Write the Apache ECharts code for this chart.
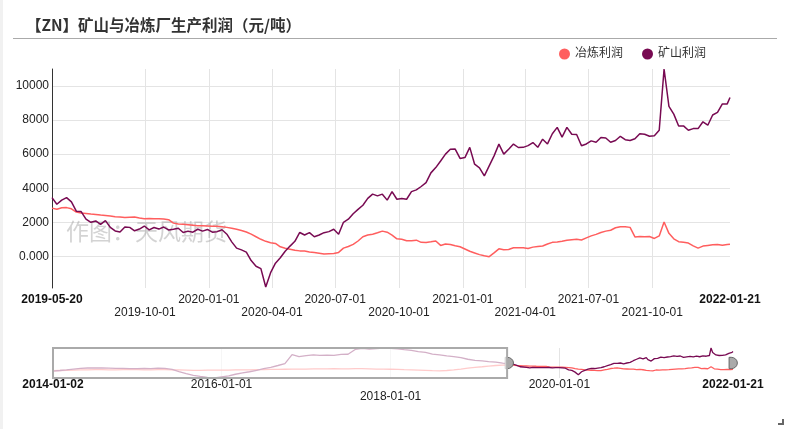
<!DOCTYPE html>
<html>
<head>
<meta charset="utf-8">
<script src="https://cdn.jsdelivr.net/npm/echarts@6/dist/echarts.min.js"></script>
<style>
  html, body { margin: 0; padding: 0; background: #fff; }
  #chart { width: 790px; height: 429px; }
</style>
</head>
<body>
<div id="chart"></div>
<script>
// 历史数据，月度，2014-01 起（只在下方缩略条里看得到）
const mineHist = [
  -100, 200, 500, 900, 1200, 1400, 1500, 1400, 1300, 1200, 1200, 1100,
  1100, 1200, 1100, 1300, 1200, 700, -300, -1300, -2100, -2600, -3100, -3400,
  -2900, -2400, -1600, -900, -400, 300, 1100, 1700, 2600, 3500, 7800, 6900,
  7300, 7700, 7500, 7600, 7500, 7900, 8000, 10300, 10800, 10500, 10700, 10900,
  10800, 10600, 10200, 9900, 9300, 8900, 8100, 7700, 7200, 6900, 6400, 5600,
  5100, 4800, 4500, 4200, 3700
];
const smeltHist = [
  100, 200, 300, 400, 500, 500, 600, 600, 500, 500, 600, 600,
  600, 500, 500, 600, 600, 500, 500, 400, 300, 300, 400, 400,
  400, 400, 500, 500, 500, 600, 600, 700, 700, 800, 900, 900,
  900, 1000, 1000, 1000, 1100, 1000, 1000, 1100, 1100, 1000, 900, 900,
  800, 700, 600, 500, 400, 300, 100, 0, 200, 500, 900, 1300,
  1700, 2000, 2300, 2600, 2800
];

// 周度，2019-05-20 起，最后一个点是 2022-01-21
const weekStart = '2019-05-20';
const lastDay = '2022-01-21';
const mineWeekly = [
  3450, 3060, 3300, 3450, 3200, 2650, 2630, 2180, 2000, 2080,
  1880, 2100, 1700, 1490, 1430, 1720, 1700, 1500, 1600, 1780,
  1550, 1690, 1600, 1720, 1550, 1590, 1650, 1400, 1480, 1420,
  1590, 1480, 1580, 1420, 1450, 1560, 1300, 850, 480, 380,
  250, -250, -580, -720, -1800, -960, -400, -80, 300, 600,
  880, 1400, 1250, 1390, 1150, 1250, 1390, 1450, 1590, 1300,
  2000, 2180, 2500, 2760, 3000, 3400, 3650, 3550, 3650, 3300,
  3800,
  3350, 3390, 3350, 3800, 3900, 4100, 4330, 4900, 5210, 5600,
  6000, 6290, 6300, 5750, 5800, 6400, 5410, 5200, 4720, 5310,
  5900, 6590, 6000, 6290, 6590, 6390, 6400, 6500, 6680, 6400,
  6880, 6600, 7200, 7570, 7000, 7570, 7170, 7150, 6490, 6600,
  6780, 6700, 6980, 6950, 6700, 6800, 7050, 6850, 6800, 6900,
  7200, 7170, 7050, 7080, 7400, 11000, 8800, 8350, 7650, 7660,
  7400, 7500, 7500, 7900, 7700, 8300, 8450, 8950, 8950,
  9330
];
const smeltWeekly = [
  2830, 2760, 2850, 2860, 2790, 2600, 2540, 2520, 2480, 2460,
  2420, 2400, 2370, 2330, 2310, 2280, 2300, 2310, 2250, 2210,
  2220, 2200, 2210, 2190, 2150, 1950, 1900, 1880, 1860, 1830,
  1800, 1790, 1780, 1770, 1760, 1740, 1700, 1650, 1590, 1520,
  1430, 1300, 1150, 1000, 880, 800, 760, 560, 470, 420,
  360, 320, 310, 260, 220, 180, 130, 150, 170, 230,
  480, 580, 700, 900, 1150, 1250, 1300, 1380, 1480, 1420,
  1250,
  1030, 1000, 920, 910, 950, 820, 810, 850, 900, 640,
  720, 700, 620, 560, 430, 300, 200, 100, 30, -20,
  200, 440, 380, 400, 500, 500, 510, 460, 540, 580,
  610, 720, 820, 840, 880, 940, 970, 1000, 960, 1080,
  1200, 1290, 1400, 1480, 1530, 1680, 1740, 1740, 1700, 1140,
  1160, 1150, 1160, 1050, 1200, 2020, 1350, 1030, 860, 820,
  780, 610, 480, 600, 640, 680, 700, 650, 690,
  710
];

// 刻度
const mainTicks = ['2019-10-01', '2020-01-01', '2020-04-01', '2020-07-01', '2020-10-01',
  '2021-01-01', '2021-04-01', '2021-07-01', '2021-10-01'];
const mainLabels = [weekStart].concat(mainTicks, [lastDay]);
const zoomTicks = ['2016-01-01', '2018-01-01', '2020-01-01'];
const zoomLabels = ['2014-01-02'].concat(zoomTicks, [lastDay]);

const RED = '#FF5E5E';
const PURPLE = '#780A52';

const pad = n => (n < 10 ? '0' + n : '' + n);
const ts = s => Date.UTC(+s.slice(0, 4), +s.slice(5, 7) - 1, +s.slice(8, 10));
const fmt = v => {
  const d = new Date(v);
  return d.getUTCFullYear() + '-' + pad(d.getUTCMonth() + 1) + '-' + pad(d.getUTCDate());
};

// 日期
const histDates = mineHist.map((_, i) => (2014 + Math.floor(i / 12)) + '-' + pad(i % 12 + 1) + '-01');
histDates[0] = '2014-01-02';
const weekDates = [];
for (let i = 0; i < mineWeekly.length - 1; i++) {
  weekDates.push(fmt(ts(weekStart) + i * 7 * 864e5));
}
weekDates.push(lastDay);

const allDates = histDates.concat(weekDates);
const mineAll = mineHist.concat(mineWeekly).map((v, i) => [ts(allDates[i]), v]);
const smeltAll = smeltHist.concat(smeltWeekly).map((v, i) => [ts(allDates[i]), v]);

const FONT = 'Arial, "Liberation Sans", "Noto Sans CJK SC", sans-serif';

const chart = echarts.init(document.getElementById('chart'));
chart.setOption({
  animation: false,
  textStyle: { fontFamily: FONT },
  title: {
    text: '【ZN】矿山与冶炼厂生产利润（元/吨）',
    left: 21,
    top: 12,
    textStyle: { fontSize: 15.5, fontWeight: 'bold', color: '#333', fontFamily: '"Noto Sans CJK SC", sans-serif' }
  },
  legend: {
    data: ['冶炼利润', '矿山利润'],
    right: 84,
    top: 48,
    padding: 0,
    icon: 'circle',
    itemWidth: 11,
    itemHeight: 11,
    itemGap: 19,
    textStyle: { fontSize: 12, color: '#333' }
  },
  graphic: [
    { type: 'rect', shape: { x: 0, y: 0, width: 3, height: 429 }, style: { fill: '#f1f1f1' }, silent: true },
    { type: 'line', shape: { x1: 13, y1: 38.5, x2: 777, y2: 38.5 }, style: { stroke: '#aaa', lineWidth: 1 }, silent: true },
    {
      type: 'text', left: 66, top: 220, z: 1, silent: true,
      style: { text: '作图：天风期货', font: '23px "Noto Sans CJK SC", sans-serif', fill: 'rgba(150,150,150,0.42)' }
    },
    { type: 'polyline', shape: { points: [[783, 419], [783, 424], [778, 424]] }, style: { stroke: '#666', lineWidth: 2 }, silent: true }
  ],
  grid: [
    { left: 52, right: 60, top: 69, bottom: 141 },
    { left: 53, right: 57, top: 348, height: 30 }
  ],
  xAxis: [
    {
      type: 'value',
      gridIndex: 0,
      min: ts('2014-01-02'),
      max: ts(lastDay),
      axisLine: { show: false },
      axisTick: { show: false, customValues: mainTicks.map(ts) },
      splitLine: { show: true, lineStyle: { color: '#e4e4e4' } },
      axisLabel: {
        customValues: mainLabels.map(ts),
        color: '#222',
        fontSize: 12,
        lineHeight: 13,
        margin: 5,
        formatter: v => {
          const s = fmt(v);
          if (s === weekStart || s === lastDay) return '{b|' + s + '}';
          const m = +s.slice(5, 7);
          return (m === 4 || m === 10) ? '\n' + s : s;
        },
        rich: { b: { fontWeight: 'bold', fontSize: 12, color: '#111', lineHeight: 13 } }
      }
    },
    {
      type: 'value',
      gridIndex: 1,
      min: ts('2014-01-02'),
      max: ts(lastDay),
      axisLine: { show: false },
      axisTick: { show: false, customValues: zoomTicks.map(ts) },
      splitLine: { show: true, lineStyle: { color: '#e4e4e4' } },
      axisLabel: {
        customValues: zoomLabels.map(ts),
        color: '#222',
        fontSize: 12,
        lineHeight: 12,
        margin: 1,
        formatter: v => {
          const s = fmt(v);
          if (s === '2014-01-02' || s === lastDay) return '{b|' + s + '}';
          return s.slice(0, 4) === '2018' ? '\n' + s : s;
        },
        rich: { b: { fontWeight: 'bold', fontSize: 12, color: '#111', lineHeight: 12 } }
      }
    }
  ],
  yAxis: [
    {
      type: 'value',
      gridIndex: 0,
      min: -1860,
      max: 11000,
      minInterval: 2000,
      maxInterval: 2000,
      axisLine: { show: true, lineStyle: { color: '#333', width: 1 } },
      axisTick: { show: false },
      splitLine: { show: true, showMinLine: false, showMaxLine: false, lineStyle: { color: '#e4e4e4' } },
      axisLabel: {
        showMinLabel: false,
        showMaxLabel: false,
        color: '#222',
        fontSize: 12,
        margin: 3,
        formatter: v => (v === 0 ? '0.000' : '' + v)
      }
    },
    {
      type: 'value',
      gridIndex: 1,
      show: false,
      min: 'dataMin',
      max: 'dataMax',
      splitLine: { show: false }
    }
  ],
  dataZoom: [{
    type: 'slider',
    xAxisIndex: 0,
    startValue: ts(weekStart),
    endValue: ts(lastDay),
    left: 53,
    right: 57,
    top: 348,
    height: 30,
    showDataShadow: false,
    showDetail: false,
    brushSelect: false,
    moveHandleSize: 0,
    backgroundColor: 'rgba(0,0,0,0)',
    fillerColor: 'rgba(0,0,0,0)',
    borderColor: 'rgba(0,0,0,0)',
    handleIcon: 'path://M0,0 L4,0 A12,11 0 0 1 4,22 L0,22 Z',
    handleSize: '38%',
    handleStyle: { color: '#aaa', borderColor: '#666', borderWidth: 1 }
  }],
  series: [
    {
      name: '冶炼利润', type: 'line', xAxisIndex: 0, yAxisIndex: 0,
      data: smeltAll, symbol: 'none',
      lineStyle: { color: RED, width: 1.5 }, itemStyle: { color: RED }
    },
    {
      name: '矿山利润', type: 'line', xAxisIndex: 0, yAxisIndex: 0,
      data: mineAll, symbol: 'none',
      lineStyle: { color: PURPLE, width: 1.5 }, itemStyle: { color: PURPLE }
    },
    {
      name: '冶炼利润', type: 'line', xAxisIndex: 1, yAxisIndex: 1,
      data: smeltAll, symbol: 'none', silent: true,
      lineStyle: { color: RED, width: 1.3 }, itemStyle: { color: RED }
    },
    {
      name: '矿山利润', type: 'line', xAxisIndex: 1, yAxisIndex: 1,
      data: mineAll, symbol: 'none', silent: true,
      lineStyle: { color: PURPLE, width: 1.3 }, itemStyle: { color: PURPLE },
      markArea: {
        silent: true,
        z: 5,
        label: { show: false },
        itemStyle: { color: 'rgba(255,255,255,0.68)', borderColor: '#aaa', borderWidth: 2 },
        data: [[{ xAxis: ts('2014-01-02') }, { xAxis: ts(weekStart) }]]
      }
    }
  ]
});
</script>
</body>
</html>
